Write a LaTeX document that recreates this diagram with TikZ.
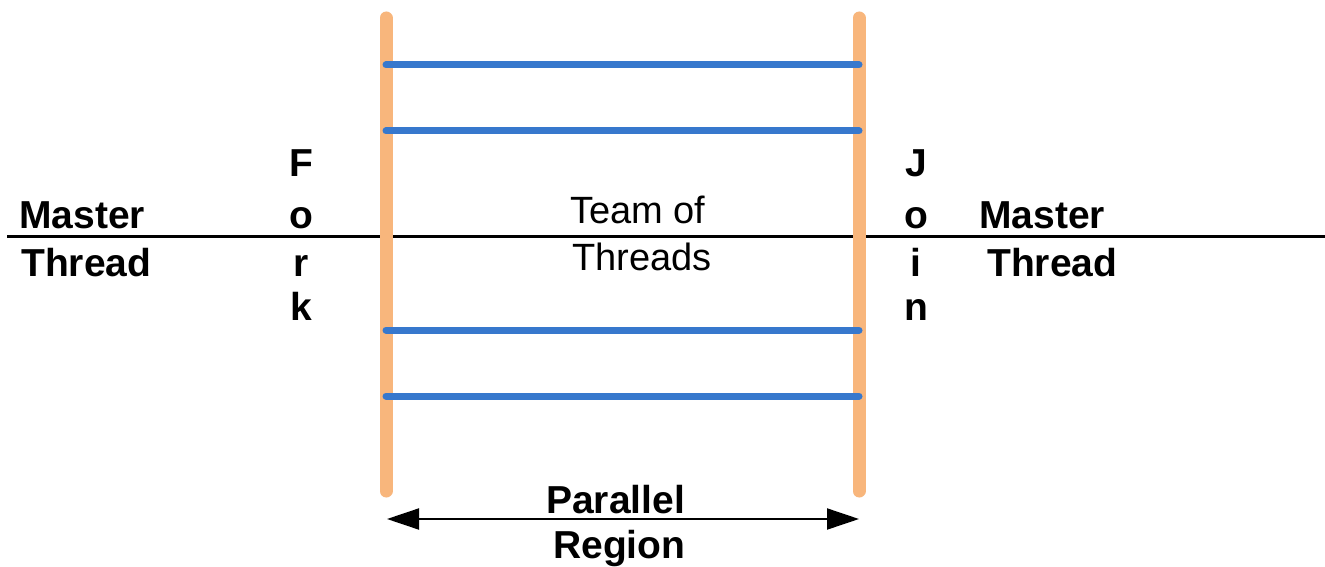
\documentclass[tikz,border=0pt]{standalone}
\usepackage{fontspec}
\setmainfont{Liberation Sans}
\usetikzlibrary{arrows.meta}
\definecolor{forkorange}{RGB}{248,182,124}
\definecolor{threadblue}{RGB}{55,120,205}
\tikzset{
  barrier/.style={draw=forkorange, line width=13pt, line cap=round},
  worker/.style={draw=threadblue, line width=7pt, line cap=round},
  timeline/.style={draw=black, line width=3pt},
  span/.style={draw=black, line width=2pt, {Triangle[length=32pt,width=21pt]}-{Triangle[length=32pt,width=21pt]}},
  boldlbl/.style={inner sep=0pt, font=\fontsize{39}{45}\selectfont\bfseries},
  plainlbl/.style={inner sep=0pt, font=\fontsize{38}{44}\selectfont},
}
\begin{document}
\begin{tikzpicture}[x=1pt,y=-1pt]
\useasboundingbox (0,0) rectangle (1325,567);
\fill[white] (0,0) rectangle (1325,567);
% coordinates
\coordinate (fT) at (386,18);
\coordinate (fB) at (386,491);
\coordinate (jT) at (859,18);
\coordinate (jB) at (859,491);
\coordinate (w1a) at (386,65);  \coordinate (w1b) at (859,65);
\coordinate (w2a) at (386,131); \coordinate (w2b) at (859,131);
\coordinate (w3a) at (386,330); \coordinate (w3b) at (859,330);
\coordinate (w4a) at (386,396); \coordinate (w4b) at (859,396);
\coordinate (mL) at (7,236);
\coordinate (mR) at (1325,236);
\coordinate (aL) at (387,519);
\coordinate (aR) at (859,519);
% master thread line
\draw[timeline] (mL) -- (mR);
% fork/join barriers
\draw[barrier] (fT) -- (fB);
\draw[barrier] (jT) -- (jB);
% team threads
\draw[worker] (w1a) -- (w1b);
\draw[worker] (w2a) -- (w2b);
\draw[worker] (w3a) -- (w3b);
\draw[worker] (w4a) -- (w4b);
% parallel region arrow
\draw[span] (aL) -- (aR);
% labels
\node[boldlbl, anchor=base west] (m1) at (19,228) {Master};
\node[boldlbl, anchor=base west] (t1) at (21,276) {Thread};
\node[boldlbl, anchor=base] (f1) at (301,176) {F};
\node[boldlbl, anchor=base] (f2) at (301,228) {o};
\node[boldlbl, anchor=base] (f3) at (301,276) {r};
\node[boldlbl, anchor=base] (f4) at (301,320) {k};
\node[boldlbl, anchor=base] (j1) at (916,176) {J};
\node[boldlbl, anchor=base] (j2) at (916,228) {o};
\node[boldlbl, anchor=base] (j3) at (916,276) {i};
\node[boldlbl, anchor=base] (j4) at (916,320) {n};
\node[boldlbl, anchor=base west] (m2) at (979,228) {Master};
\node[boldlbl, anchor=base west] (t2) at (987,276) {Thread};
\node[plainlbl, anchor=base west] (tm1) at (570,223) {Team of};
\node[plainlbl, anchor=base west] (tm2) at (572,270) {Threads};
\node[boldlbl, anchor=base west] (p1) at (546,513) {Parallel};
\node[boldlbl, anchor=base west] (p2) at (553,558) {Region};
\end{tikzpicture}
\end{document}
